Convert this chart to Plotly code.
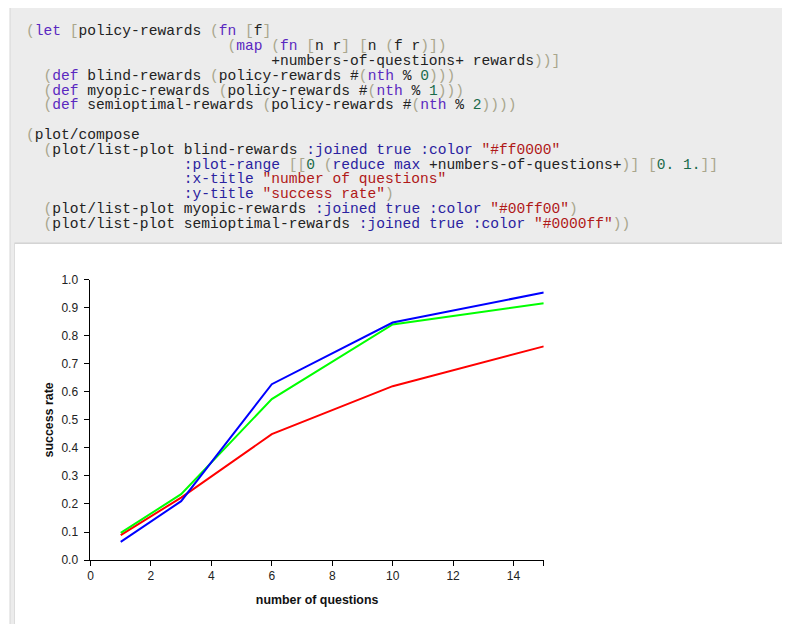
import re
import plotly.graph_objects as go

# ---------------- data ----------------
questions = [1, 3, 6, 10, 15]
blind_rewards = [0.089, 0.223, 0.449, 0.620, 0.762]
myopic_rewards = [0.097, 0.235, 0.574, 0.840, 0.916]
semioptimal_rewards = [0.065, 0.210, 0.627, 0.847, 0.954]

x_tickvals = [0, 2, 4, 6, 8, 10, 12, 14, 15]
x_ticktext = ["0", "2", "4", "6", "8", "10", "12", "14", ""]
y_tickvals = [0.0, 0.1, 0.2, 0.3, 0.4, 0.5, 0.6, 0.7, 0.8, 0.9, 1.0]

code_lines = [
    '(let [policy-rewards (fn [f]',
    '                       (map (fn [n r] [n (f r)])',
    '                            +numbers-of-questions+ rewards))]',
    '  (def blind-rewards (policy-rewards #(nth % 0)))',
    '  (def myopic-rewards (policy-rewards #(nth % 1)))',
    '  (def semioptimal-rewards (policy-rewards #(nth % 2))))',
    '',
    '(plot/compose',
    '  (plot/list-plot blind-rewards :joined true :color "#ff0000"',
    '                  :plot-range [[0 (reduce max +numbers-of-questions+)] [0. 1.]]',
    '                  :x-title "number of questions"',
    '                  :y-title "success rate")',
    '  (plot/list-plot myopic-rewards :joined true :color "#00ff00")',
    '  (plot/list-plot semioptimal-rewards :joined true :color "#0000ff"))',
]

W, H = 782, 616
AX, AY, SY = 9.5, 14.5, 0.978


def px(x):
    return (x - AX) / W


def py(y):
    return 1 - ((y - AY) / SY) / H


# ---------------- syntax colouring ----------------
C_PLAIN = "#222222"
C_BRACKET = "#a9a68c"
C_KEYWORD = "#5a28c0"
C_ATOM = "#2a22a0"
C_NUMBER = "#1a6b4a"
C_STRING = "#b01818"
KEYWORDS = {"let", "fn", "map", "def", "nth"}
ATOMS = {"true", "reduce", "max"}

tok_re = re.compile(r'("[^"]*")|(:[\w\-]+)|([\[\]\(\)])|(\d+\.?)|([^\s\[\]\(\)"]+)|(\s+)')


def esc(s):
    return s.replace("&", "&amp;").replace("<", "&lt;").replace(">", "&gt;")


def colorize(line):
    out = []
    for m in tok_re.finditer(line):
        s = m.group(0)
        if m.group(1):
            c = C_STRING
        elif m.group(2):
            c = C_ATOM
        elif m.group(3):
            c = C_BRACKET
        elif m.group(4):
            c = C_NUMBER
        elif m.group(6):
            out.append("\u00a0" * len(s))
            continue
        else:
            if s in KEYWORDS:
                c = C_KEYWORD
            elif s in ATOMS:
                c = C_ATOM
            else:
                c = C_PLAIN
        out.append(f'<span style="color:{c}">{esc(s)}</span>')
    return "".join(out)


# ---------------- figure ----------------
fig = go.Figure()
fig.add_trace(go.Scatter(x=questions, y=blind_rewards, mode="lines",
                         line=dict(color="#ff0000", width=2), showlegend=False))
fig.add_trace(go.Scatter(x=questions, y=myopic_rewards, mode="lines",
                         line=dict(color="#00ff00", width=2), showlegend=False))
fig.add_trace(go.Scatter(x=questions, y=semioptimal_rewards, mode="lines",
                         line=dict(color="#0000ff", width=2), showlegend=False))

shapes = [
    # code cell background
    dict(type="rect", xref="paper", yref="paper", x0=px(8.5), x1=px(800), y0=py(700), y1=py(4.5),
         fillcolor="#ececec", line=dict(color="#d6d6d6", width=1), layer="below"),
    dict(type="line", xref="paper", yref="paper", x0=px(8), x1=px(800), y0=py(5), y1=py(5),
         line=dict(color="#c8c8c8", width=1.5), layer="below"),
    # output cell
    dict(type="rect", xref="paper", yref="paper", x0=px(13), x1=px(800), y0=py(700), y1=py(243),
         fillcolor="#ffffff", line=dict(color="#dcdcdc", width=1), layer="below"),
    dict(type="line", xref="paper", yref="paper", x0=px(13), x1=px(800), y0=py(243), y1=py(243),
         line=dict(color="#d4d4d4", width=1.5), layer="below"),
]

annotations = []
line_y0 = 31
line_step = 14.8
for i, ln in enumerate(code_lines):
    if not ln:
        continue
    annotations.append(dict(
        x=px(24), y=py(line_y0 + i * line_step), xref="paper", yref="paper",
        xanchor="left", yanchor="middle", showarrow=False, borderpad=0,
        text=colorize(ln),
        font=dict(family="Liberation Mono, Courier New, monospace", size=14.6, color=C_PLAIN),
    ))

fig.update_layout(
    width=W, height=H,
    margin=dict(l=0, r=0, t=0, b=0),
    paper_bgcolor="#ffffff",
    plot_bgcolor="rgba(0,0,0,0)",
    shapes=shapes,
    annotations=annotations,
    font=dict(family="Liberation Sans, Arial, Helvetica, sans-serif", size=12, color="#222222"),
    xaxis=dict(
        domain=[px(89.3), px(544.3)], range=[0, 15],
        tickmode="array", tickvals=x_tickvals, ticktext=x_ticktext,
        showgrid=False, zeroline=False,
        showline=True, linecolor="#000000", linewidth=1,
        ticks="outside", ticklen=5, tickcolor="#000000", tickwidth=1,
        tickfont=dict(size=12, color="#222222"),
        title=dict(text="<b>number of questions</b>", standoff=12,
                   font=dict(size=12.4, color="#111111")),
        anchor="y",
    ),
    yaxis=dict(
        domain=[py(560), py(279.3)], range=[0, 1],
        tickmode="array", tickvals=y_tickvals, tickformat=".1f",
        showgrid=False, zeroline=False,
        showline=True, linecolor="#000000", linewidth=1,
        ticks="outside", ticklen=5, tickcolor="#000000", tickwidth=1,
        tickfont=dict(size=12, color="#222222"),
        ticklabelstandoff=4,
        title=dict(text="<b>success rate</b>", standoff=5,
                   font=dict(size=12.4, color="#111111")),
        anchor="x",
    ),
)

fig.write_html("out.html")
